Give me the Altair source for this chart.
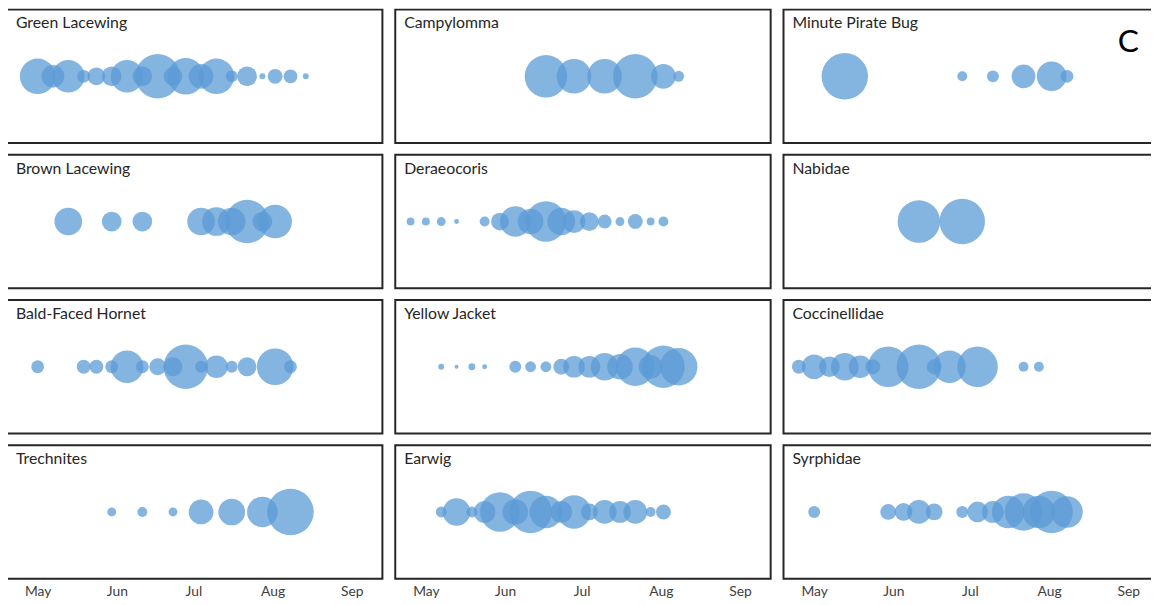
import altair as alt
import pandas as pd

species = ["Green Lacewing", "Campylomma", "Minute Pirate Bug",
           "Brown Lacewing", "Deraeocoris", "Nabidae",
           "Bald-Faced Hornet", "Yellow Jacket", "Coccinellidae",
           "Trechnites", "Earwig", "Syrphidae"]

# sampling dates and relative bubble sizes (bubble diameter, relative) per species
green_dates = ["2019-05-01", "2019-05-07", "2019-05-13", "2019-05-19", "2019-05-24", "2019-05-30",
               "2019-06-05", "2019-06-11", "2019-06-17", "2019-06-23", "2019-06-28", "2019-07-04",
               "2019-07-10", "2019-07-16", "2019-07-22", "2019-07-28", "2019-08-02", "2019-08-08",
               "2019-08-14"]
green_size = [36, 23, 33, 13, 18, 20, 33, 20, 45, 19, 37, 25, 36, 12, 20, 6, 15, 14, 6]

campy_dates = ["2019-06-17", "2019-06-28", "2019-07-10", "2019-07-22", "2019-08-02", "2019-08-08"]
campy_size = [43, 35, 35, 45, 25, 11]

mpb_dates = ["2019-05-13", "2019-06-28", "2019-07-10", "2019-07-22", "2019-08-02", "2019-08-08"]
mpb_size = [47, 10, 12, 24, 30, 13]

brown_dates = ["2019-05-13", "2019-05-30", "2019-06-11", "2019-07-04", "2019-07-10", "2019-07-16",
               "2019-07-22", "2019-07-28", "2019-08-02"]
brown_size = [28, 20, 20, 28, 29, 28, 44, 20, 34]

dera_dates = ["2019-04-25", "2019-05-01", "2019-05-07", "2019-05-13", "2019-05-24", "2019-05-30",
              "2019-06-05", "2019-06-11", "2019-06-17", "2019-06-23", "2019-06-28", "2019-07-04",
              "2019-07-10", "2019-07-16", "2019-07-22", "2019-07-28", "2019-08-02"]
dera_size = [8, 8, 9, 5, 10, 18, 31, 26, 41, 28, 23, 19, 14, 9, 15, 8, 10]

nabi_dates = ["2019-06-11", "2019-06-28"]
nabi_size = [43, 46]

hornet_dates = ["2019-05-01", "2019-05-19", "2019-05-24", "2019-05-30", "2019-06-05", "2019-06-11",
                "2019-06-17", "2019-06-23", "2019-06-28", "2019-07-04", "2019-07-10", "2019-07-16",
                "2019-07-22", "2019-08-02", "2019-08-08"]
hornet_size = [13, 14, 14, 13, 33, 13, 17, 19, 45, 12, 23, 12, 19, 37, 13]

yj_dates = ["2019-05-07", "2019-05-13", "2019-05-19", "2019-05-24", "2019-06-05", "2019-06-11",
            "2019-06-17", "2019-06-23", "2019-06-28", "2019-07-04", "2019-07-10", "2019-07-16",
            "2019-07-22", "2019-07-28", "2019-08-02", "2019-08-08"]
yj_size = [6, 4, 7, 5, 12, 11, 11, 16, 22, 22, 28, 26, 39, 24, 43, 38]

cocc_dates = ["2019-04-25", "2019-05-01", "2019-05-07", "2019-05-13", "2019-05-19", "2019-05-24",
              "2019-05-30", "2019-06-11", "2019-06-17", "2019-06-23", "2019-07-04", "2019-07-22",
              "2019-07-28"]
cocc_size = [14, 25, 21, 28, 23, 15, 41, 45, 15, 33, 41, 10, 10]

trech_dates = ["2019-05-30", "2019-06-11", "2019-06-23", "2019-07-04", "2019-07-16", "2019-07-28",
               "2019-08-08"]
trech_size = [9, 10, 9, 25, 27, 31, 47]

earwig_dates = ["2019-05-07", "2019-05-13", "2019-05-19", "2019-05-24", "2019-05-30", "2019-06-05",
                "2019-06-11", "2019-06-17", "2019-06-23", "2019-06-28", "2019-07-04", "2019-07-10",
                "2019-07-16", "2019-07-22", "2019-07-28", "2019-08-02"]
earwig_size = [11, 28, 11, 22, 40, 26, 43, 33, 22, 34, 17, 24, 22, 24, 10, 15]

syrph_dates = ["2019-05-01", "2019-05-30", "2019-06-05", "2019-06-11", "2019-06-17", "2019-06-28",
               "2019-07-04", "2019-07-10", "2019-07-16", "2019-07-22", "2019-07-28", "2019-08-02",
               "2019-08-08"]
syrph_size = [12, 16, 18, 24, 17, 12, 21, 22, 33, 38, 33, 43, 32]

month_ticks = [alt.DateTime(year=2019, month=m, date=1, utc=True) for m in [5, 6, 7, 8, 9]]

series = {
    "Green Lacewing": (green_dates, green_size),
    "Campylomma": (campy_dates, campy_size),
    "Minute Pirate Bug": (mpb_dates, mpb_size),
    "Brown Lacewing": (brown_dates, brown_size),
    "Deraeocoris": (dera_dates, dera_size),
    "Nabidae": (nabi_dates, nabi_size),
    "Bald-Faced Hornet": (hornet_dates, hornet_size),
    "Yellow Jacket": (yj_dates, yj_size),
    "Coccinellidae": (cocc_dates, cocc_size),
    "Trechnites": (trech_dates, trech_size),
    "Earwig": (earwig_dates, earwig_size),
    "Syrphidae": (syrph_dates, syrph_size),
}

W, H = 380, 135


def panel(name, show_axis, corner=None):
    dates, sizes = series[name]
    df = pd.DataFrame({"date": dates, "bubble": sizes})
    if show_axis:
        axis = alt.Axis(values=month_ticks, format="%b", title=None, domain=False,
                        ticks=False, grid=False, labelFont="Lato", labelFontSize=14,
                        labelColor="#404040", labelPadding=6)
    else:
        axis = None
    xenc = alt.X(
        "date:T",
        scale=alt.Scale(type="utc",
                        domain=[alt.DateTime(year=2019, month=4, date=19, utc=True),
                                alt.DateTime(year=2019, month=9, date=13, utc=True)]),
        axis=axis,
    )
    pts = alt.Chart(df).mark_circle(color="#5B9BD5", opacity=0.75).encode(
        x=xenc,
        y=alt.value(H / 2),
        size=alt.Size("bubble:Q",
                      scale=alt.Scale(type="pow", exponent=2, domain=[0, 50],
                                      range=[0, 2500]),
                      legend=None),
    )
    ttl = alt.Chart(pd.DataFrame({"label": [name]})).mark_text(
        align="left", baseline="alphabetic", font="Lato", fontSize=16,
        color="#262626").encode(
        x=alt.value(9), y=alt.value(19), text="label:N")
    layers = [pts, ttl]
    if corner:
        layers.append(alt.Chart(pd.DataFrame({"label": [corner]})).mark_text(
            align="center", baseline="alphabetic", font="Lato", fontSize=32,
            color="#000000").encode(x=alt.value(349), y=alt.value(43), text="label:N"))
    return alt.layer(*layers).properties(width=W, height=H)


rows = []
for r in range(4):
    cells = []
    for c in range(3):
        name = species[r * 3 + c]
        cells.append(panel(name, show_axis=(r == 3),
                           corner="C" if name == "Minute Pirate Bug" else None))
    rows.append(alt.hconcat(*cells, spacing=11))

chart = alt.vconcat(*rows, spacing=10).properties(
    padding={"left": -2, "top": -3, "right": -9, "bottom": 0}
).configure_view(
    stroke="#262626", strokeWidth=2
)

chart.save("out.html", embed_options={"renderer": "svg", "actions": False})
